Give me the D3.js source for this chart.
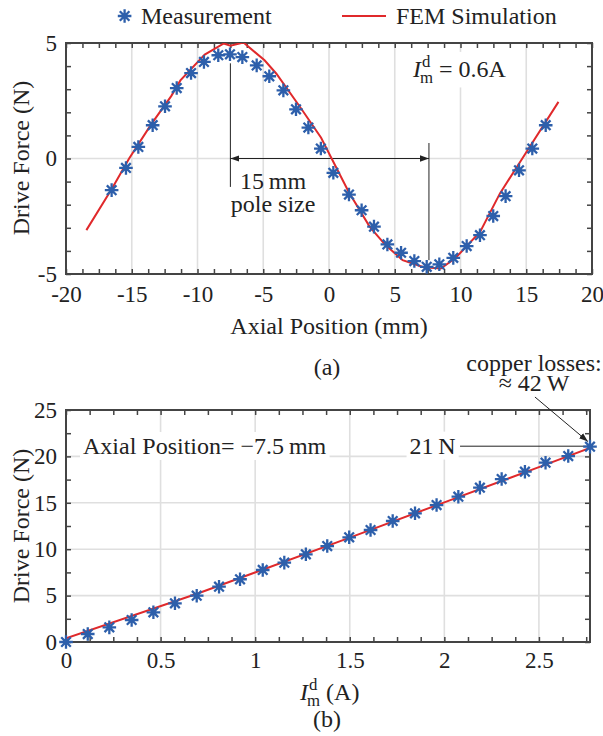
<!DOCTYPE html>
<html>
<head>
<meta charset="utf-8">
<script src="https://cdn.jsdelivr.net/npm/d3@7"></script>
<style>
body { margin: 0; background: #fff; }
svg text { font-family: "Liberation Serif", "Times New Roman", serif; fill: #222; }
</style>
</head>
<body>
<svg id="chart"></svg>
<script>
// (a) force vs axial position at 0.6 A
var posMeas = [-16.53, -15.44, -14.5, -13.41, -12.47, -11.58, -10.49, -9.51, -8.42, -7.53, -6.59, -5.5, -4.54, -3.47, -2.51, -1.57, -0.62,
               0.33, 1.52, 2.48, 3.42, 4.44, 5.48, 6.49, 7.43, 8.39, 9.45, 10.47, 11.48, 12.49, 13.43, 14.45, 15.46, 16.48];
var forceMeas = [-1.37, -0.41, 0.50, 1.44, 2.26, 3.05, 3.70, 4.18, 4.47, 4.51, 4.39, 4.03, 3.56, 2.95, 2.13, 1.34, 0.43,
                 -0.62, -1.56, -2.24, -2.95, -3.72, -4.08, -4.44, -4.69, -4.58, -4.30, -3.79, -3.32, -2.49, -1.63, -0.51, 0.43, 1.44];
var posFem = [-18.45, -16.5, -15.2, -13.5, -12, -11.3, -9.45, -8.0, -7.5, -6.5, -4.9, -4.0, -2.2, -0.6, 0.2, 1.5,
              3.1, 4.3, 5.6, 7.2, 8.5, 9.6, 11.5, 13.0, 14.7, 17.45];
var forceFem = [-3.1, -1.3, 0, 1.5, 2.7, 3.38, 4.5, 4.98, 4.88, 5.02, 4.25, 3.67, 2.23, 0.9, 0, -1.45,
                -2.96, -3.75, -4.4, -4.71, -4.76, -4.32, -3.17, -1.51, 0, 2.45];

// (b) force vs current at -7.5 mm
var currMeas = [0, 0.115, 0.229, 0.347, 0.462, 0.576, 0.691, 0.809, 0.92, 1.04, 1.154, 1.268, 1.381,
                1.497, 1.61, 1.727, 1.845, 1.959, 2.074, 2.188, 2.303, 2.426, 2.535, 2.655, 2.77];
var forceMeasB = [0, 0.86, 1.58, 2.37, 3.2, 4.17, 4.99, 5.96, 6.76, 7.76, 8.55, 9.45, 10.34,
                  11.28, 12.07, 13.04, 13.87, 14.76, 15.66, 16.63, 17.56, 18.35, 19.32, 20.04, 21.05];
var currFem = [0, 0.7, 1.5, 2.0, 2.5, 2.77];
var forceFemB = [0.4, 5.25, 11.25, 15.05, 18.85, 20.9];

// ticks
var xTicksA = [-20, -15, -10, -5, 0, 5, 10, 15, 20];
var yTicksA = [-5, 0, 5];
var xTicksB = [0, 0.5, 1, 1.5, 2, 2.5];
var yTicksB = [0, 5, 10, 15, 20, 25];

var poleLeft = -7.5, poleRight = 7.6;

var blue = "#2d5fab", red = "#e0292b", axisColor = "#444";

var svg = d3.select("#chart").attr("width", 603).attr("height", 736)
    .attr("font-family", "Liberation Serif, serif");

var defs = svg.append("defs");
defs.append("marker").attr("id", "head")
    .attr("viewBox", "0 0 10 10").attr("refX", 10).attr("refY", 5)
    .attr("markerWidth", 9).attr("markerHeight", 9).attr("markerUnits", "userSpaceOnUse")
    .attr("orient", "auto-start-reverse")
  .append("path").attr("d", "M0,1.5L10,5L0,8.5Z").attr("fill", "#222");

var marginA = {left: 66, top: 43}, widthA = 526, heightA = 231;
var marginB = {left: 66, top: 410}, widthB = 524, heightB = 232;

var xA = d3.scaleLinear().domain([-20, 20]).range([0, widthA]),
    yA = d3.scaleLinear().domain([-5, 5]).range([heightA, 0]),
    xB = d3.scaleLinear().domain([0, 2.77]).range([0, widthB]),
    yB = d3.scaleLinear().domain([0, 25]).range([heightB, 0]);

function isMajor(list, d) {
    return list.some(function(t) { return Math.abs(t - d) < 1e-6; });
}

function frame(g, x, y, w, h, xt, yt, xAll, yAll, xGrid, yGrid, padX) {
    g.append("defs").append("clipPath").attr("id", "clip" + g.attr("id"))
        .append("rect").attr("width", w).attr("height", h);

    g.selectAll(".gx").data(xGrid).join("line").attr("class", "gx")
        .attr("x1", d => x(d)).attr("x2", d => x(d)).attr("y1", 0).attr("y2", h)
        .attr("stroke", "#dfdfdf").attr("stroke-width", 1.6);
    g.selectAll(".gy").data(yGrid).join("line").attr("class", "gy")
        .attr("x1", 0).attr("x2", w).attr("y1", d => y(d)).attr("y2", d => y(d))
        .attr("stroke", "#dfdfdf").attr("stroke-width", 1.6);

    var fx = d => isMajor(xt, d) ? String(d) : "";
    var fy = d => isMajor(yt, d) ? String(d) : "";

    var axes = [
        g.append("g").attr("transform", "translate(0," + h + ")")
            .call(d3.axisBottom(x).tickValues(xAll).tickSize(-5).tickPadding(padX).tickFormat(fx)),
        g.append("g")
            .call(d3.axisTop(x).tickValues(xAll).tickSize(-5).tickFormat("")),
        g.append("g")
            .call(d3.axisLeft(y).tickValues(yAll).tickSize(-5).tickPadding(9).tickFormat(fy)),
        g.append("g").attr("transform", "translate(" + w + ",0)")
            .call(d3.axisRight(y).tickValues(yAll).tickSize(-5).tickFormat(""))
    ];
    axes.forEach(function(a) {
        a.attr("color", axisColor).attr("font-size", 23)
         .attr("font-family", "Liberation Serif, serif");
        a.select(".domain").remove();
        a.selectAll(".tick line").attr("stroke-width", 1.5);
    });

    g.append("rect").attr("width", w).attr("height", h)
        .attr("fill", "none").attr("stroke", axisColor).attr("stroke-width", 2);
}

function stars(g, xs, ys, x, y) {
    var r = 6.8, q = 4.8;
    g.selectAll(".star").data(xs).join("path").attr("class", "star")
        .attr("transform", (d, i) => "translate(" + x(d) + "," + y(ys[i]) + ")")
        .attr("d", "M" + -r + ",0H" + r + "M0," + -r + "V" + r +
                   "M" + -q + "," + -q + "L" + q + "," + q + "M" + -q + "," + q + "L" + q + "," + -q)
        .attr("stroke", blue).attr("stroke-width", 2.3).attr("fill", "none");
}

function simLine(g, xs, ys, x, y) {
    var line = d3.line().x(d => x(d[0])).y(d => y(d[1]));
    g.append("path").datum(d3.zip(xs, ys))
        .attr("clip-path", "url(#clip" + g.attr("id") + ")")
        .attr("d", line).attr("fill", "none")
        .attr("stroke", red).attr("stroke-width", 2);
}

// I_m^d, returns the x where it ends
function imd(g, x, y, size) {
    var t = g.append("text").attr("x", x).attr("y", y)
        .style("font-size", size + "px").style("font-style", "italic").text("I");
    var w = t.node().getComputedTextLength();
    var s = size * 0.7;
    g.append("text").attr("x", x + w + 1).attr("y", y - size * 0.42).style("font-size", s + "px").text("d");
    var m = g.append("text").attr("x", x + w - 1).attr("y", y + size * 0.27).style("font-size", s + "px").text("m");
    return x + w - 1 + m.node().getComputedTextLength();
}

function backing(g, textSel, pad) {
    var b = textSel.node().getBBox();
    g.insert("rect", function() { return textSel.node(); })
        .attr("x", b.x - pad).attr("y", b.y - pad + 2)
        .attr("width", b.width + 2 * pad).attr("height", b.height + 2 * pad - 4)
        .attr("fill", "#fff");
}

// ---------- legend ----------
var legend = svg.append("g");
stars(legend, [124.6], [16], d => d, d => d);
legend.append("text").attr("x", 141).attr("y", 24).style("font-size", "24px").text("Measurement");
legend.append("line").attr("x1", 342).attr("x2", 386).attr("y1", 16).attr("y2", 16)
    .attr("stroke", red).attr("stroke-width", 2);
legend.append("text").attr("x", 396).attr("y", 24).style("font-size", "24px").text("FEM Simulation");

// ---------- (a) ----------
var gA = svg.append("g").attr("id", "A")
    .attr("transform", "translate(" + marginA.left + "," + marginA.top + ")");
frame(gA, xA, yA, widthA, heightA, xTicksA, yTicksA,
      d3.range(-20, 20.01, 1.25), d3.range(-5, 5.01, 1),
      [-15, -10, -5, 0, 5, 10, 15], [0], 12);

gA.append("line").attr("x1", xA(poleLeft)).attr("x2", xA(poleLeft)).attr("y1", yA(4.12)).attr("y2", yA(-1.23))
    .attr("stroke", "#222").attr("stroke-width", 1);
gA.append("line").attr("x1", xA(poleRight)).attr("x2", xA(poleRight)).attr("y1", yA(0.67)).attr("y2", yA(-4.4))
    .attr("stroke", "#222").attr("stroke-width", 1);
gA.append("line").attr("x1", xA(poleLeft)).attr("x2", xA(poleRight)).attr("y1", yA(0)).attr("y2", yA(0))
    .attr("stroke", "#222").attr("stroke-width", 1)
    .attr("marker-start", "url(#head)").attr("marker-end", "url(#head)");
gA.append("text").attr("x", xA(-4.25)).attr("y", yA(-1.32)).attr("text-anchor", "middle")
    .style("font-size", "24px").text("15\u2009mm");
gA.append("text").attr("x", xA(-4.25)).attr("y", yA(-2.3)).attr("text-anchor", "middle")
    .style("font-size", "24px").text("pole size");

simLine(gA, posFem, forceFem, xA, yA);
stars(gA, posMeas, forceMeas, xA, yA);

var lblA = gA.append("g");
var endA = imd(lblA, xA(6.39), yA(3.53), 24);
lblA.append("text").attr("x", endA + 6).attr("y", yA(3.53)).style("font-size", "24px").text("= 0.6A");
backing(gA, lblA, 2);

svg.append("text").attr("x", 329).attr("y", 334).attr("text-anchor", "middle")
    .style("font-size", "24px").text("Axial Position (mm)");
svg.append("text").attr("transform", "translate(29,158) rotate(-90)").attr("text-anchor", "middle")
    .style("font-size", "24px").text("Drive Force (N)");
svg.append("text").attr("x", 327).attr("y", 375).attr("text-anchor", "middle")
    .style("font-size", "24px").text("(a)");

// ---------- (b) ----------
var gB = svg.append("g").attr("id", "B")
    .attr("transform", "translate(" + marginB.left + "," + marginB.top + ")");
frame(gB, xB, yB, widthB, heightB, xTicksB, yTicksB,
      d3.range(0, 2.77, 0.125), d3.range(0, 25.01, 2.5),
      [0.5, 1, 1.5, 2, 2.5], [5, 10, 15, 20], 10);

var posLbl = gB.append("text").attr("x", xB(0.09)).attr("y", yB(20.26))
    .style("font-size", "24px").text("Axial Position= \u22127.5\u2009mm");
backing(gB, posLbl, 3);
var nLbl = gB.append("text").attr("x", xB(2.06)).attr("y", yB(20.3)).attr("text-anchor", "end")
    .style("font-size", "24px").text("21\u2009N");
backing(gB, nLbl, 3);
gB.append("line").attr("x1", xB(2.083)).attr("x2", xB(2.77)).attr("y1", yB(21.1)).attr("y2", yB(21.1))
    .attr("stroke", "#222").attr("stroke-width", 1);

simLine(gB, currFem, forceFemB, xB, yB);
stars(gB, currMeas, forceMeasB, xB, yB);

gB.append("text").attr("x", xB(2.474)).attr("y", yB(29.25)).attr("text-anchor", "middle")
    .style("font-size", "24px").text("copper losses:");
gB.append("text").attr("x", xB(2.474)).attr("y", yB(27.1)).attr("text-anchor", "middle")
    .style("font-size", "24px").text("\u2248 42\u2009W");
gB.append("line").attr("x1", xB(2.479)).attr("y1", yB(26.4)).attr("x2", xB(2.759)).attr("y2", yB(21.6))
    .attr("stroke", "#222").attr("stroke-width", 1).attr("marker-end", "url(#head)");

var tB = svg.append("g");
var endB = imd(tB, 300, 700, 24);
tB.append("text").attr("x", endB + 6).attr("y", 700).style("font-size", "24px").text("(A)");
svg.append("text").attr("transform", "translate(29,526) rotate(-90)").attr("text-anchor", "middle")
    .style("font-size", "24px").text("Drive Force (N)");
svg.append("text").attr("x", 327).attr("y", 727).attr("text-anchor", "middle")
    .style("font-size", "24px").text("(b)");
</script>
</body>
</html>
